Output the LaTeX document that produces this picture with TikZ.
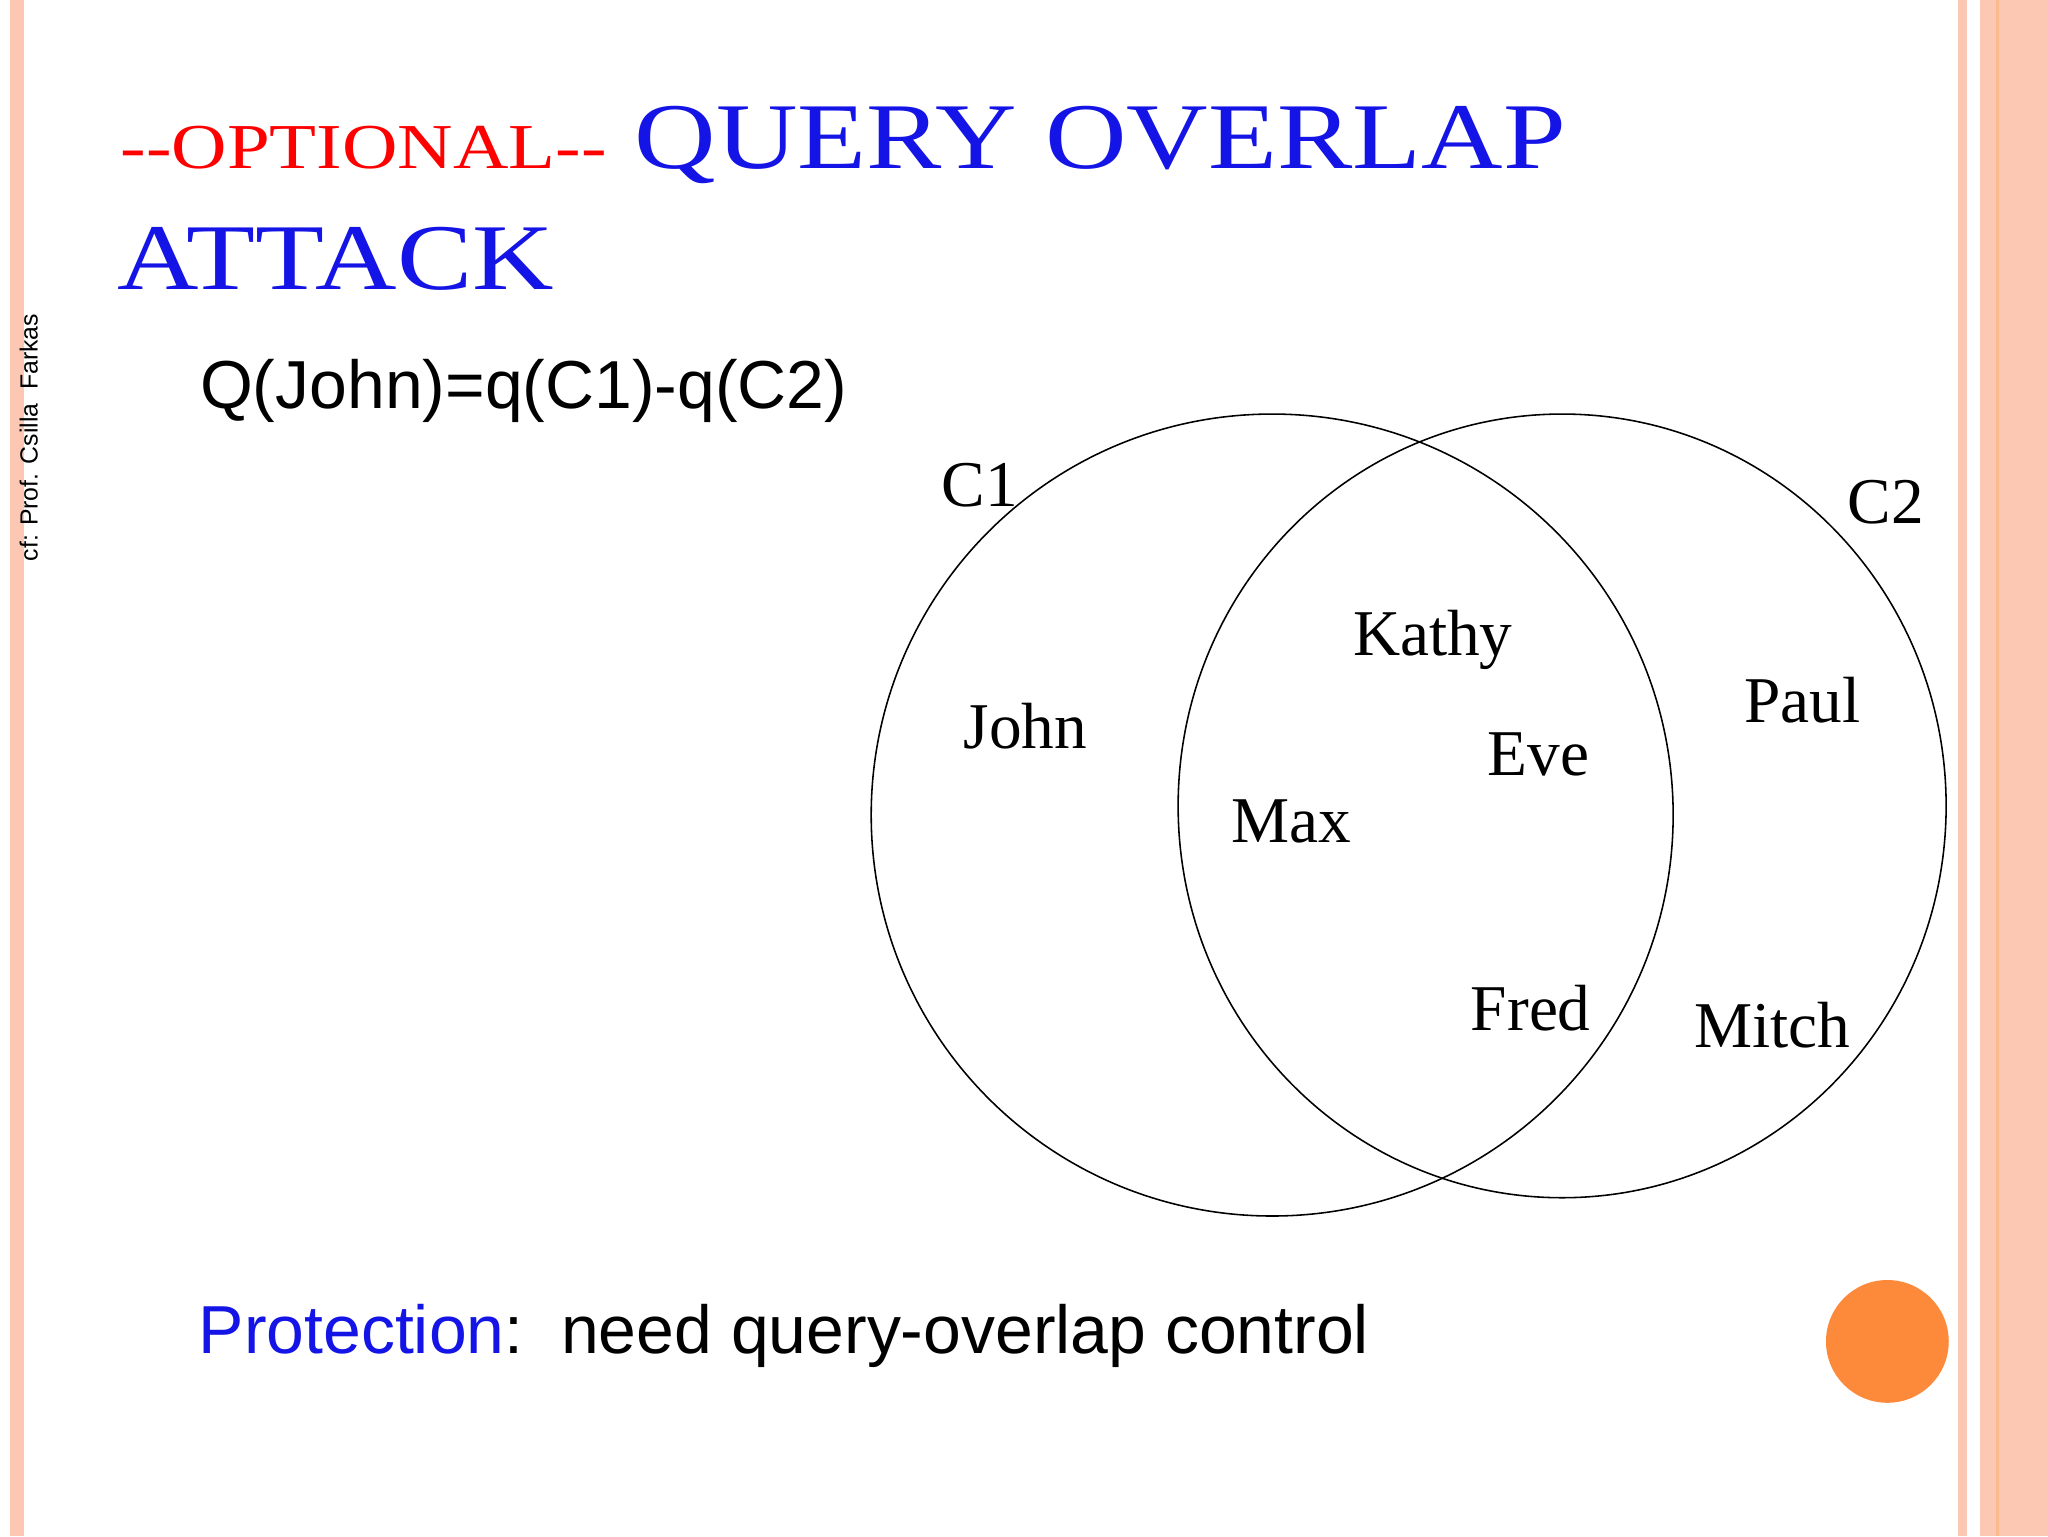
\documentclass[tikz,border=0pt]{standalone}
\usepackage{fontspec}
\setmainfont{Liberation Serif}
\setsansfont{Liberation Sans}
\definecolor{stripe}{RGB}{252,200,180}
\definecolor{orng}{RGB}{253,138,58}
\definecolor{tblue}{RGB}{20,20,230}
\begin{document}
\begin{tikzpicture}[x=1pt,y=-1pt,
  nm/.style={font=\fontsize{50}{50}\selectfont\rmfamily,anchor=base},
  sf/.style={font=\fontsize{52}{52}\selectfont\sffamily,anchor=base west,inner sep=0},
  ttl/.style={anchor=base west,inner sep=0,font=\fontsize{72}{72}\selectfont,xscale=1.2,transform shape}]
\useasboundingbox (0,0) rectangle (1568,1176);
\fill[white] (0,0) rectangle (1568,1176);
\fill[stripe] (8,0) rectangle (18,1176);
\fill[stripe] (1499,0) rectangle (1506,1176);
\fill[stripe] (1516,0) rectangle (1568,1176);
\fill[stripe!80!orange] (1528.5,0) rectangle (1530.5,1176);
\node[ttl] (t1) at (92,129)
  {\textcolor{red}{\fontsize{49}{49}\selectfont -{}-OPTIONAL-{}-} \textcolor{tblue}{QUERY OVERLAP}};
\node[ttl,text=tblue] (t2) at (90,222) {ATTACK};
\node[rotate=90,font=\fontsize{19}{19}\selectfont\sffamily] (cf) at (22,335) {cf: Prof. Csilla~~Farkas};
\node[sf] (q) at (153,313) {Q(John)=q(C1)-q(C2)};
\draw[line width=1.2pt] (974,624) circle[radius=307] coordinate (c1);
\draw[line width=1.2pt] (1196,617) ellipse[x radius=294,y radius=300] coordinate (c2);
\node[nm] (lc1) at (750,388) {C1};
\node[nm] (lc2) at (1444,401) {C2};
\node[nm] (kathy) at (1097,502) {Kathy};
\node[nm] (john) at (785,573) {John};
\node[nm] (paul) at (1380,553) {Paul};
\node[nm] (eve) at (1178,594) {Eve};
\node[nm] (max) at (989,645) {Max};
\node[nm] (fred) at (1172,789) {Fred};
\node[nm] (mitch) at (1357,802) {Mitch};
\node[sf] (prot) at (152,1036) {\textcolor{tblue}{Protection}:\ \ need query-overlap control};
\fill[orng] (1445,1027) circle[radius=47];
\end{tikzpicture}
\end{document}
